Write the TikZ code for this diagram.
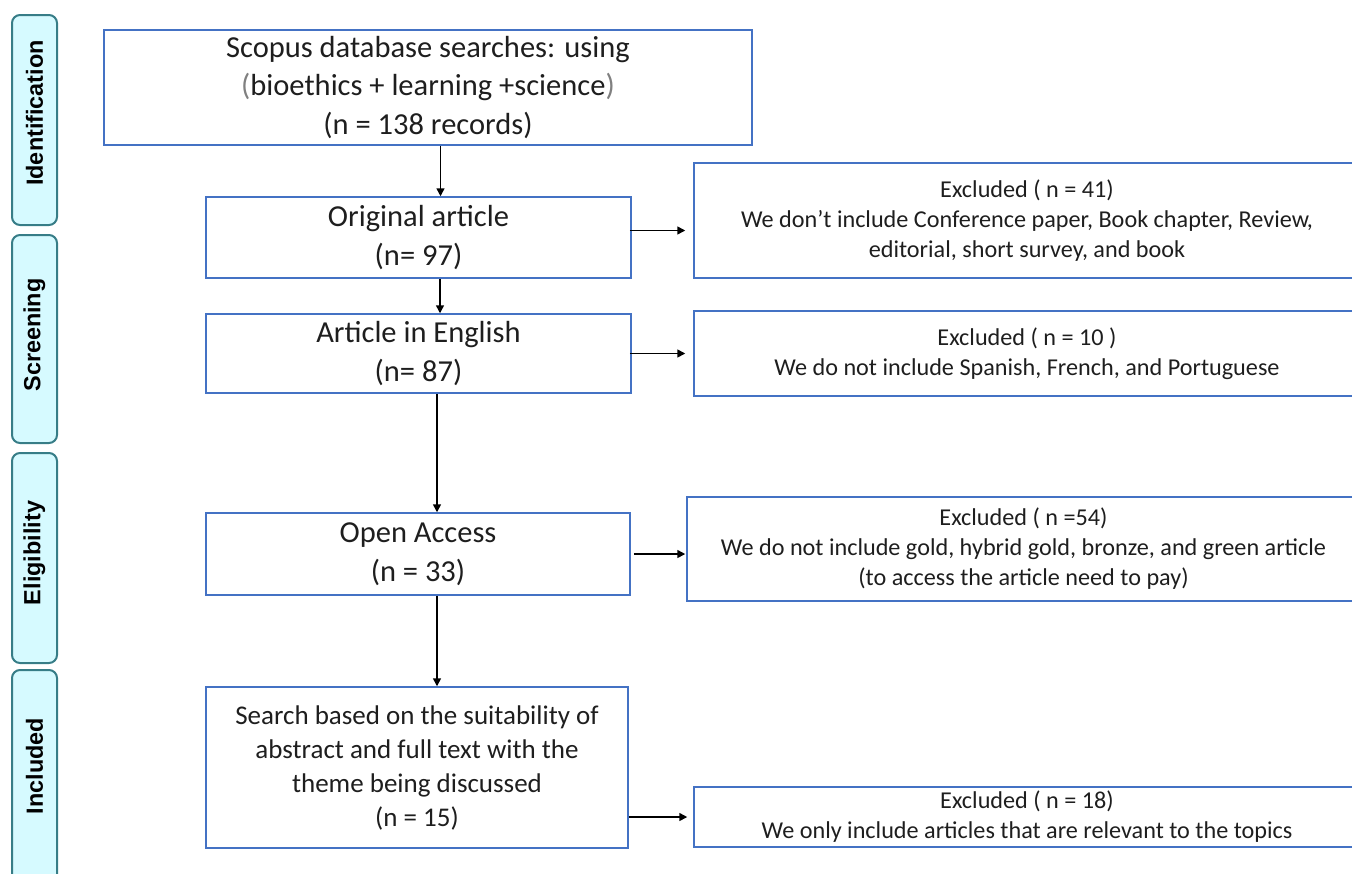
\documentclass[tikz,border=0pt]{standalone}
\usepackage{fontspec}
\setmainfont{Carlito}
\newfontfamily\sidefont{Liberation Sans}
\usetikzlibrary{arrows.meta}
\newlength{\du}
\setlength{\du}{0.5pt}
\definecolor{boxline}{RGB}{68,114,196}
\definecolor{sideline}{RGB}{55,125,135}
\definecolor{sidefill}{RGB}{214,250,255}
\definecolor{textgray}{RGB}{30,30,30}
\tikzset{
  flowbox/.style={draw=boxline, line width=0.75pt, rectangle, inner sep=0pt, align=center, text=textgray},
  mainfont/.style={font=\fontsize{15.25}{19.25}\selectfont},
  searchfont/.style={font=\fontsize{13.5}{17}\selectfont},
  exclfont/.style={font=\fontsize{12.1}{15}\selectfont},
  sidebox/.style={draw=sideline, fill=sidefill, line width=1pt, rounded corners=4pt, rotate=90, minimum height=45\du, inner sep=0pt},
  sidetext/.style={rotate=90, inner sep=0pt, font=\sidefont\bfseries\fontsize{11.7}{13}\selectfont},
  arr/.style={-{Triangle[length=4pt,width=4pt]}, line width=0.75pt, black},
}
\begin{document}
\begin{tikzpicture}
\pgftransformxscale{1.000000}
\pgftransformyscale{-1.000000}
\useasboundingbox (0\du,0\du) rectangle (1352\du,873\du);
% phase boxes
\node[sidebox, minimum width=210\du] (ident) at (34.5\du,120\du) {};
\node[sidetext] (identtext) at (34.5\du,113\du) {Identification};
\node[sidebox, minimum width=208\du] (screen) at (34.5\du,339\du) {};
\node[sidetext] (screentext) at (34.5\du,335\du) {Screening};
\node[sidebox, minimum width=210\du] (elig) at (34.5\du,558\du) {};
\node[sidetext] (eligtext) at (34.5\du,553\du) {Eligibility};
\node[sidebox, minimum width=230\du] (incl) at (34.5\du,785\du) {};
\node[sidetext] (incltext) at (34.5\du,766\du) {Included};
% main column
\node[flowbox, mainfont, minimum width=648\du, minimum height=115\du] (scopus) at (428\du,87.5\du)
  {Scopus database searches: using\\ {\color{gray}(}bioethics + learning +science{\color{gray})}\\(n = 138 records)};
\node[flowbox, mainfont, minimum width=425\du, minimum height=81\du] (orig) at (418.5\du,237.5\du)
  {Original article\\(n= 97)};
\node[flowbox, mainfont, minimum width=425\du, minimum height=79\du] (english) at (418.5\du,353.5\du)
  {Article in English\\(n= 87)};
\node[flowbox, mainfont, minimum width=424\du, minimum height=82\du] (open) at (418\du,554\du)
  {Open Access\\(n = 33)};
\node[flowbox, searchfont, minimum width=422\du, minimum height=161\du] (search) at (417\du,767.5\du)
  {Search based on the suitability of\\abstract and full text with the\\theme being discussed\\(n = 15)};
% excluded column
\node[flowbox, exclfont, minimum width=666\du, minimum height=115\du] (exc41) at (1027\du,220.5\du)
  {Excluded ( n = 41)\\We don’t include Conference paper, Book chapter, Review,\\editorial, short survey, and book};
\node[flowbox, exclfont, minimum width=666\du, minimum height=85\du] (exc10) at (1027\du,353.5\du)
  {Excluded ( n = 10 )\\We do not include Spanish, French, and Portuguese};
\node[flowbox, exclfont, minimum width=673\du, minimum height=104\du] (exc54) at (1023.5\du,549\du)
  {Excluded ( n =54)\\We do not include gold, hybrid gold, bronze, and green article\\(to access the article need to pay)};
\node[flowbox, exclfont, minimum width=666\du, minimum height=60\du] (exc18) at (1027\du,817\du)
  {Excluded ( n = 18)\\We only include articles that are relevant to the topics};
% arrows down
\draw[arr] ([xshift=12.5\du]scopus.south) -- ([xshift=22\du]orig.north);
\draw[arr] ([xshift=21.5\du]orig.south) -- ([xshift=21.5\du]english.north);
\draw[arr] ([xshift=18.5\du]english.south) -- ([xshift=19\du]open.north);
\draw[arr] ([xshift=19\du]open.south) -- ([xshift=20\du]search.north);
% arrows right
\draw[arr, shorten <=-2\du, shorten >=8\du] ([yshift=-7\du]orig.east) -- ([yshift=-7\du]orig.east -| exc41.west);
\draw[arr, shorten <=-2\du, shorten >=8\du] (english.east) -- (english.east -| exc10.west);
\draw[arr, shorten <=3\du, shorten >=1\du] (open.east) -- (open.east -| exc54.west);
\draw[arr, shorten >=6\du] (search.east |- exc18.west) -- (exc18.west);
\end{tikzpicture}
\end{document}
